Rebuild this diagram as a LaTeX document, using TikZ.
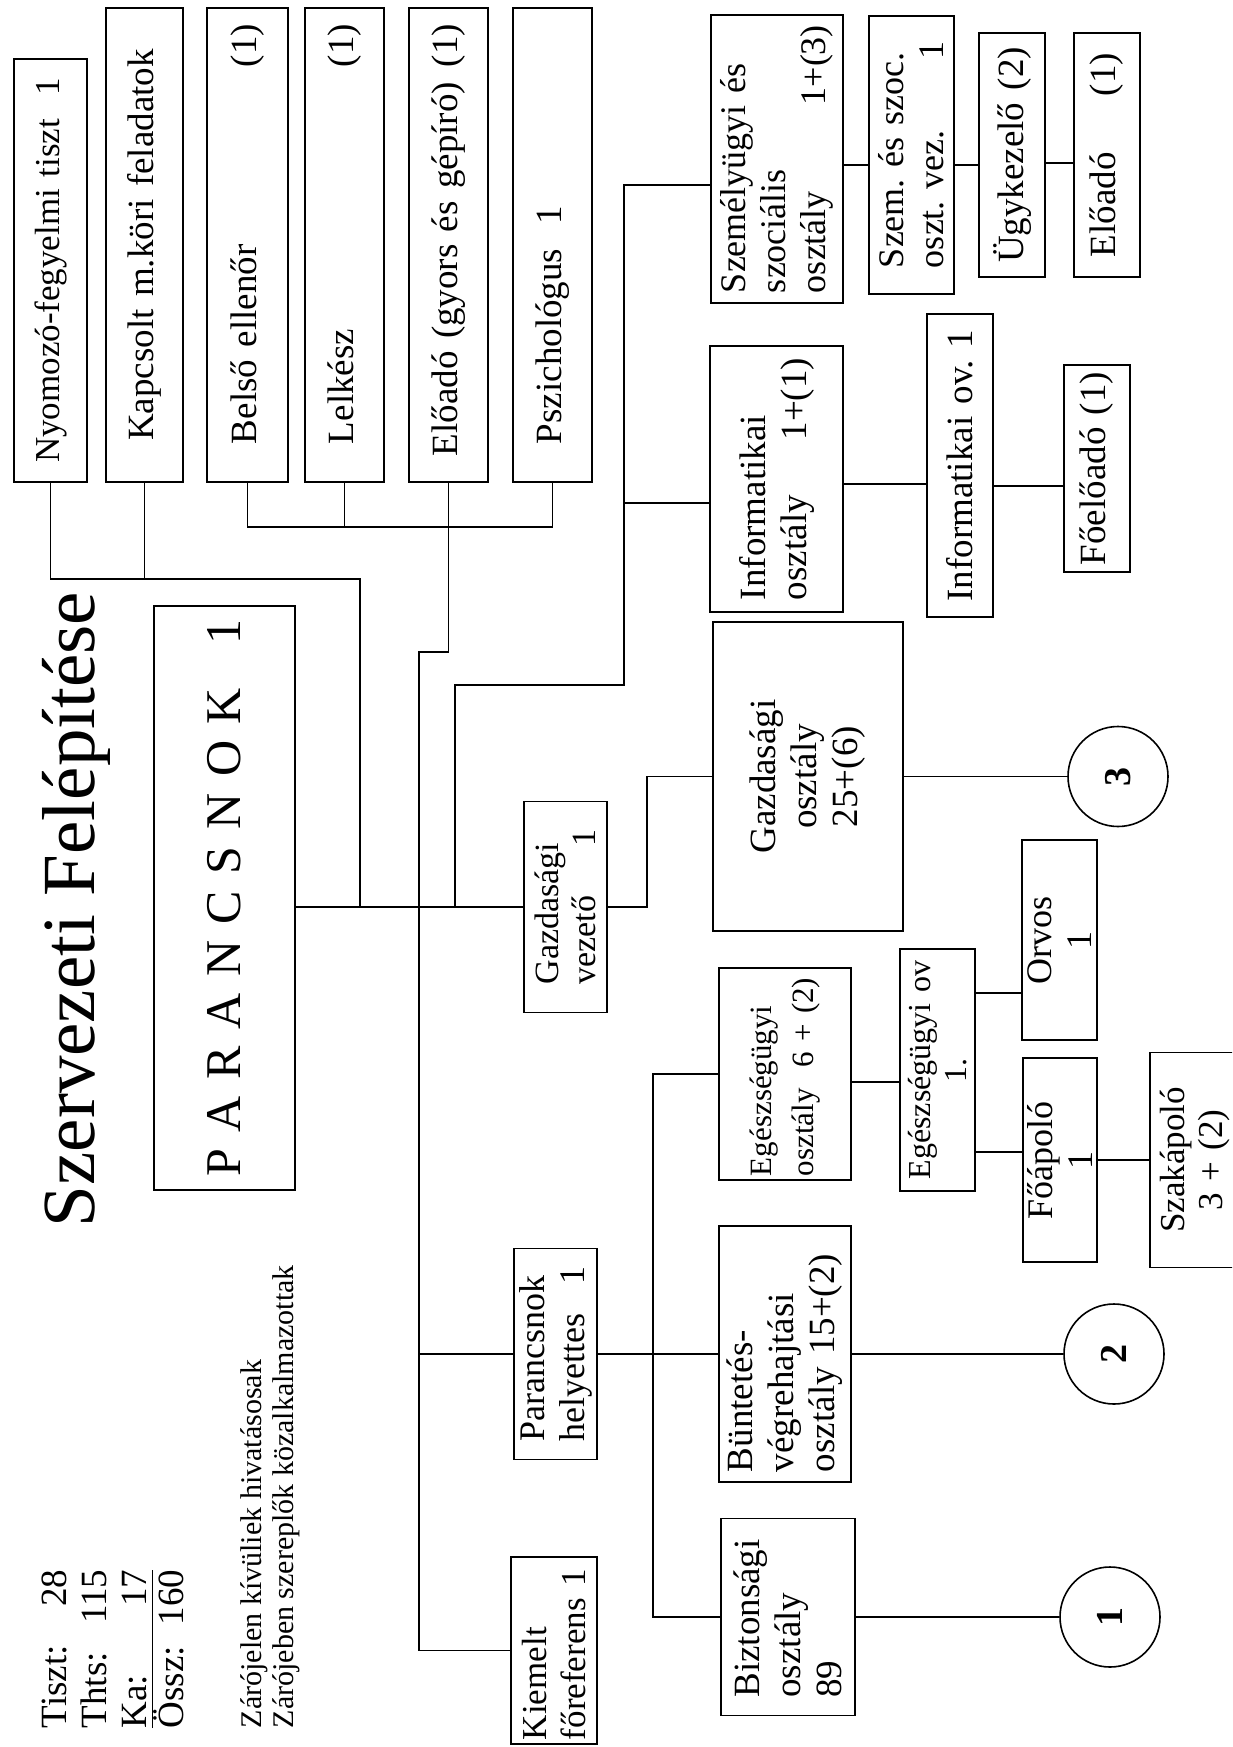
\documentclass[tikz,border=0pt]{standalone}
\usepackage{fontspec}
\setmainfont{Liberation Serif}
\setlength{\arrayrulewidth}{1.6pt}
\tikzset{
  unit/.style={draw, rotate=90, inner xsep=16pt, inner ysep=0pt, align=left, font=\fontsize{37}{41}\selectfont},
  ring/.style={draw, circle, minimum size=100pt, inner sep=0pt, rotate=90, font=\fontsize{38}{38}\selectfont\bfseries}
}
\begin{document}
\frenchspacing
\begin{tikzpicture}[x=1pt, y=-1pt, line width=1.6pt]
    \useasboundingbox (0,0) rectangle (1232,1747);
    \clip (0,0) rectangle (1232,1747);

    % Title and notes
    \node[rotate=90, anchor=base west, inner sep=0pt, font=\fontsize{75}{80}\selectfont] (title) at (94,1228) {Szervezeti Felépítése};
    \node[rotate=90, anchor=north west, inner sep=0pt, font=\fontsize{37}{40}\selectfont] (stat) at (38,1729)
        {\begin{tabular}{@{}l@{\hspace{20pt}}r@{}}Tiszt: & 28\\ Thts: & 115\\ Ka: & 17\\[-7pt] \hline Össz: & 160\end{tabular}};
    \node[rotate=90, anchor=north west, inner sep=0pt, align=left, font=\fontsize{30}{32}\selectfont] (note) at (240,1729)
        {Zárójelen kívüliek hivatásosak\\Zárójeben szereplők közalkalmazottak};

    % Top row
    \node[unit, align=center, inner xsep=8pt, text width=407pt, minimum height=73pt, font=\fontsize{35}{39}\selectfont] (nyom) at (50.5,270.5) {Nyomozó-fegyelmi tiszt\ \ 1};
    \node[unit, align=center, text width=442pt, minimum height=77pt] (kapcs) at (144.5,245) {Kapcsolt m.köri feladatok};
    \node[unit, text width=442pt, minimum height=81pt] (belso) at (247.5,245) {\hspace*{22pt}Belső ellenőr\hfill(1)};
    \node[unit, text width=442pt, minimum height=79pt] (lelkesz) at (344.5,245) {\hspace*{22pt}Lelkész\hfill(1)};
    \node[unit, text width=442pt, minimum height=79pt] (eloado) at (448.5,245) {\hspace*{10pt}Előadó (gyors és gépíró)\hfill(1)};
    \node[unit, text width=442pt, minimum height=79pt] (pszich) at (552.5,245) {\hspace*{22pt}Pszichológus\ \ 1};

    % Commander and deputies
    \node[unit, align=center, inner xsep=8pt, text width=568pt, minimum height=141pt, font=\fontsize{50}{54}\selectfont] (pk) at (224.5,898) {P A R A N C S N O K\hspace{44pt}1\hspace*{30pt}};
    \node[unit, inner xsep=28pt, text width=155pt, minimum height=83pt, font=\fontsize{34}{37}\selectfont] (gazdvez) at (565.5,907) {Gazdasági\\vezető\hfill 1};
    \node[unit, inner xsep=18pt, text width=175pt, minimum height=83pt, font=\fontsize{36}{40}\selectfont] (phely) at (555.5,1354) {Parancsnok\\helyettes\hfill 1};
    \node[unit, inner xsep=4pt, text width=179pt, minimum height=86pt, font=\fontsize{35}{39}\selectfont] (kiem) at (554,1650.5) {Kiemelt\\főreferens 1};

    % Departments
    \node[unit, inner xsep=10pt, text width=268pt, minimum height=132pt, font=\fontsize{36}{40}\selectfont] (szem) at (777,159) {Személyügyi és\\szociális\\osztály\hfill 1+(3)};
    \node[unit, inner xsep=12pt, text width=242pt, minimum height=133pt] (info) at (776.5,479) {Informatikai\\osztály\hfill 1+(1)};
    \node[unit, align=center, text width=277pt, minimum height=190pt] (gosz) at (808,776.5) {Gazdasági\\osztály\\25+(6)};
    \node[unit, inner xsep=4pt, text width=204pt, minimum height=132pt, font=\fontsize{31}{42}\selectfont] (eu) at (785,1074) {Egészségügyi\\osztály\ \ 6 + (2)};
    \node[unit, inner xsep=10pt, text width=236pt, minimum height=132pt] (bunt) at (785,1354) {Büntetés-\\végrehajtási\\osztály 15+(2)};
    \node[unit, inner xsep=18pt, text width=161pt, minimum height=134pt] (bizt) at (788,1617) {Biztonsági\\osztály\\89};

    % Sub-units
    \node[unit, inner xsep=26pt, text width=226pt, minimum height=85pt, font=\fontsize{36}{40}\selectfont] (szemsz) at (911.5,155) {Szem. és szoc.\\oszt. vez.\hfill 1};
    \node[unit, align=center, inner xsep=6pt, text width=232pt, minimum height=66pt] (ugy) at (1012,155) {Ügykezelő (2)};
    \node[unit, inner xsep=20pt, text width=204pt, minimum height=66pt] (elo2) at (1107,155) {Előadó\hfill(1)};
    \node[unit, align=center, inner xsep=10pt, text width=283pt, minimum height=66pt] (infoov) at (960,465.5) {Informatikai ov.\ 1};
    \node[unit, align=center, inner xsep=6pt, text width=195pt, minimum height=66pt] (foelo) at (1097,468.5) {Főelőadó (1)};
    \node[unit, align=center, inner xsep=8pt, text width=226pt, minimum height=75pt, font=\fontsize{32}{36}\selectfont] (euov) at (937.5,1070) {Egészségügyi ov\\1.};
    \node[unit, align=center, text width=168pt, minimum height=75pt, font=\fontsize{36}{40}\selectfont] (orvos) at (1059.5,940) {Orvos\\1};
    \node[unit, align=center, text width=172pt, minimum height=74pt, font=\fontsize{36}{40}\selectfont] (foapolo) at (1060,1160) {Főápoló\\1};
    \node[unit, align=center, text width=183pt, minimum height=90pt, font=\fontsize{35}{38}\selectfont] (szak) at (1195,1160) {Szakápoló\\3 + (2)};

    % Page links
    \node[ring] (c3) at (1118,776.5) {3};
    \node[ring] (c2) at (1114,1354) {2};
    \node[ring] (c1) at (1110,1617) {1};

    % Junctions
    \coordinate (m1) at (360,907);
    \coordinate (m3) at (455,907);
    \coordinate (sp) at (419,700);
    \coordinate (pv) at (624,685);

    % Connectors
    \draw (pk.south |- gazdvez.north) -- (gazdvez.north);
    \draw (nyom.west) -- ++(0,96) -| (m1);
    \draw (kapcs.west) -- ++(0,96);
    \draw (belso.west) -- ++(0,44) -| (pszich.west);
    \draw (lelkesz.west) -- ++(0,44);
    \draw (eloado.west) -- ++(0,169) -| (sp) |- (kiem.north);
    \draw (sp |- phely.north) -- (phely.north);
    \draw (m3) |- (pv) |- (szem.north |- 0,185);
    \draw (pv |- 0,503) -- (info.north |- 0,503);
    \draw (szem.south |- 0,165) -- (szemsz.north |- 0,165);
    \draw (szemsz.south |- 0,165) -- (ugy.north |- 0,165);
    \draw (ugy.south |- 0,163) -- (elo2.north |- 0,163);
    \draw (info.south |- 0,484) -- (infoov.north |- 0,484);
    \draw (infoov.south |- 0,486) -- (foelo.north |- 0,486);
    \draw (gazdvez.south) -- ++(39,0) |- (gosz.north);
    \draw (gosz.south) -- (c3);
    \draw (phely.south) -- (bunt.north);
    \draw (eu.north) -- ++(-65,0) |- (bizt.north);
    \draw (bunt.south) -- (c2);
    \draw (bizt.south) -- (c1);
    \draw (eu.south |- 0,1082) -- (euov.north |- 0,1082);
    \draw (euov.south |- 0,993) -- (orvos.north |- 0,993);
    \draw (euov.south |- 0,1152) -- (foapolo.north |- 0,1152);
    \draw (foapolo.south) -- (szak.north);
\end{tikzpicture}
\end{document}
